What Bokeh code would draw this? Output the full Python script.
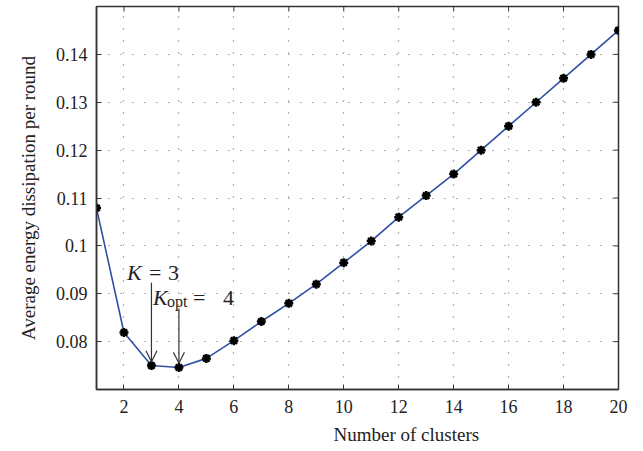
import math
from bokeh.plotting import figure
from bokeh.models import Range1d, FixedTicker, Arrow, OpenHead, Title
from bokeh.core.properties import value
from bokeh.embed import file_html
from bokeh.resources import INLINE

clusters = list(range(1, 21))
energy = [0.1079, 0.0819, 0.0750, 0.0746, 0.0765, 0.0802, 0.0842, 0.0880,
          0.0920, 0.0965, 0.1010, 0.1060, 0.1105, 0.1150, 0.1200, 0.1250,
          0.1300, 0.1350, 0.1400, 0.1450]
x_ticks = [2, 4, 6, 8, 10, 12, 14, 16, 18, 20]
y_ticks = [0.08, 0.09, 0.10, 0.11, 0.12, 0.13, 0.14]
y_tick_labels = ["0.08", "0.09", "0.1", "0.11", "0.12", "0.13", "0.14"]
x_title = "Number of clusters"
y_title = "Average energy dissipation per round"
k_marked = 3
k_opt = 4

FONT = "Liberation Serif"
AX = "#333333"
TC = "#222222"
X0, X1 = 1, 20
Y0, Y1 = 0.07, 0.15

p = figure(width=643, height=451, output_backend="svg", toolbar_location=None,
           x_range=Range1d(X0, X1), y_range=Range1d(Y0, Y1),
           min_border_left=96, min_border_right=25, min_border_top=6,
           min_border_bottom=62, background_fill_color="white",
           border_fill_color="white")

p.outline_line_color = AX
p.outline_line_width = 1.5

for ax in (p.xaxis[0], p.yaxis[0]):
    ax.axis_line_color = AX
    ax.axis_line_width = 1.5
    ax.major_tick_in = 5
    ax.major_tick_out = 0
    ax.minor_tick_line_color = None
    ax.major_tick_line_color = AX
    ax.major_label_text_font = FONT
    ax.major_label_text_font_size = "18px"
    ax.major_label_text_color = TC

p.xaxis.ticker = FixedTicker(ticks=x_ticks)
p.yaxis.ticker = FixedTicker(ticks=y_ticks)
p.yaxis.major_label_overrides = {t: l for t, l in zip(y_ticks, y_tick_labels)}
p.xaxis.major_label_standoff = 10
p.yaxis.major_label_standoff = 9

# axis titles, offset from the frame centre as in the original
p.add_layout(Title(text=x_title, align="left", offset=237, standoff=13,
                   text_font=FONT, text_font_size="19px", text_font_style="normal",
                   text_color=TC), "below")
p.add_layout(Title(text=y_title, align="center", offset=14, standoff=28,
                   text_font=FONT, text_font_size="19px", text_font_style="normal",
                   text_color=TC), "left")

p.xgrid.ticker = FixedTicker(ticks=x_ticks)
p.ygrid.ticker = FixedTicker(ticks=y_ticks)
for g in (p.xgrid[0], p.ygrid[0]):
    g.grid_line_color = "#666666"
    g.grid_line_dash = "1 11"
    g.grid_line_width = 1.2

# mirrored inward ticks on top and right
p.ray(x=x_ticks, y=[Y1] * len(x_ticks), length=5, length_units="screen",
      angle=-math.pi / 2, line_color=AX, line_width=1)
p.ray(x=[X1] * len(y_ticks), y=y_ticks, length=5, length_units="screen",
      angle=math.pi, line_color=AX, line_width=1)

p.line(clusters, energy, line_color="#2f4fa3", line_width=1.6)
p.scatter(clusters, energy, marker="asterisk", size=9, line_color="black",
          line_width=2.5)
p.scatter(clusters, energy, marker="circle", size=4, fill_color="black",
          line_color="black")

# arrows
e3 = energy[clusters.index(k_marked)]
e4 = energy[clusters.index(k_opt)]
p.add_layout(Arrow(end=OpenHead(size=11, line_width=1.2, line_color=AX),
                   x_start=k_marked, y_start=0.0923, x_end=k_marked, y_end=e3 + 0.0008,
                   line_color=AX, line_width=1.2))
p.add_layout(Arrow(end=OpenHead(size=11, line_width=1.2, line_color=AX),
                   x_start=k_opt, y_start=0.0869, x_end=k_opt, y_end=e4 + 0.0009,
                   line_color=AX, line_width=1.2))

# "K = 3"
ax3 = [2.109]
ay3 = [0.09438]
p.text(ax3, ay3, text=["K"], text_font=value(FONT), text_font_size="22px",
       text_font_style="italic", text_baseline="alphabetic", text_color=TC)
p.text(ax3, ay3, text=["="], x_offset=22, text_font=value(FONT), text_font_size="22px",
       text_baseline="alphabetic", text_color=TC)
p.text(ax3, ay3, text=["3"], x_offset=41, text_font=value(FONT), text_font_size="22px",
       text_baseline="alphabetic", text_color=TC)
# "K_opt = 4"
ax4 = [3.055]
ay4 = [0.08917]
p.text(ax4, ay4, text=["K"], text_font=value(FONT), text_font_size="22px",
       text_font_style="italic", text_baseline="alphabetic", text_color=TC)
p.text(ax4, ay4, text=["opt"], x_offset=14, y_offset=4, text_font=value(FONT),
       text_font_size="16px", text_baseline="alphabetic", text_color=TC)
p.text(ax4, ay4, text=["="], x_offset=40, text_font=value(FONT), text_font_size="22px",
       text_baseline="alphabetic", text_color=TC)
p.text(ax4, ay4, text=["4"], x_offset=70, text_font=value(FONT), text_font_size="22px",
       text_baseline="alphabetic", text_color=TC)

open("out.html", "w").write(file_html(p, INLINE))
